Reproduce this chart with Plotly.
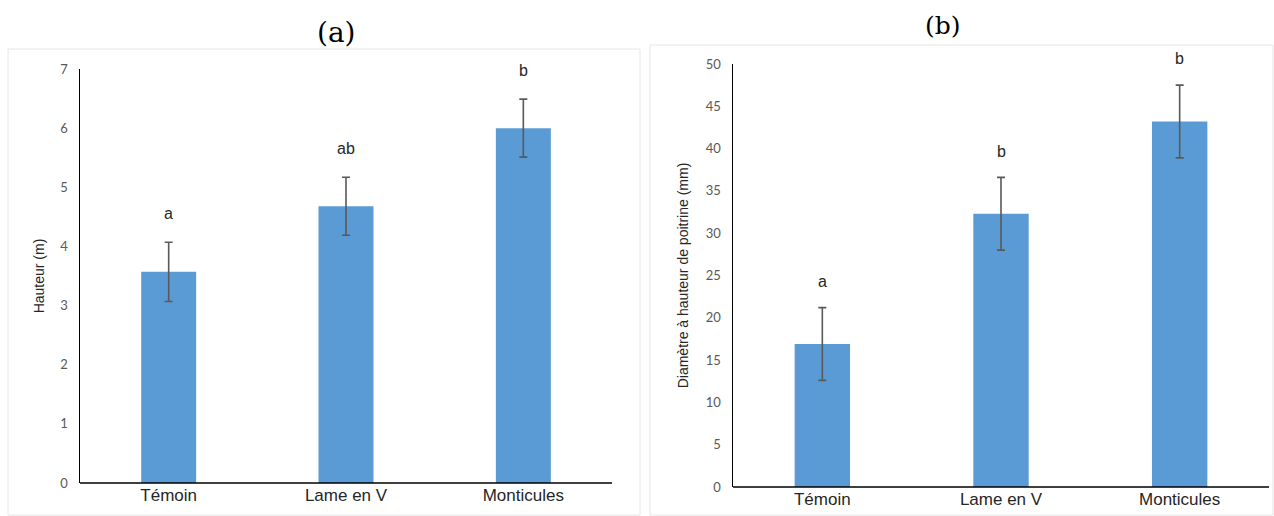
import plotly.graph_objects as go

categories = ["Témoin", "Lame en V", "Monticules"]

# Panel (a): height
height_mean = [3.57, 4.68, 6.0]
height_err = [0.5, 0.49, 0.49]
height_letters = ["a", "ab", "b"]
height_ticks = [0, 1, 2, 3, 4, 5, 6, 7]
height_range = [0, 7]

# Panel (b): diameter at breast height
dbh_mean = [16.9, 32.3, 43.2]
dbh_err = [4.3, 4.3, 4.3]
dbh_letters = ["a", "b", "b"]
dbh_ticks = [0, 5, 10, 15, 20, 25, 30, 35, 40, 45, 50]
dbh_range = [0, 50]

W, H = 1274, 516
BAR = "#5B9BD5"
ERR = "#595959"
TICK = "#595959"

fig = go.Figure()

fig.add_trace(go.Bar(
    x=categories, y=height_mean, marker=dict(color=BAR, line=dict(width=0)),
    width=0.31,
    error_y=dict(type="data", array=height_err, color=ERR, thickness=1.6, width=4),
    xaxis="x", yaxis="y", showlegend=False, hoverinfo="skip"))
fig.add_trace(go.Bar(
    x=categories, y=dbh_mean, marker=dict(color=BAR, line=dict(width=0)),
    width=0.31,
    error_y=dict(type="data", array=dbh_err, color=ERR, thickness=1.6, width=4),
    xaxis="x2", yaxis="y2", showlegend=False, hoverinfo="skip"))

# significance letters (placed above the error bars, through the axes' domain scale)
for c, m, e, t in zip(categories, height_mean, height_err, height_letters):
    v = m + e + 0.48
    fig.add_annotation(x=c, y=(v - height_range[0]) / (height_range[1] - height_range[0]),
                       xref="x", yref="y domain", yanchor="middle", text=t, showarrow=False,
                       font=dict(family="Liberation Sans", size=16, color="#262626"))
for c, m, e, t in zip(categories, dbh_mean, dbh_err, dbh_letters):
    v = m + e + 3.1
    fig.add_annotation(x=c, y=(v - dbh_range[0]) / (dbh_range[1] - dbh_range[0]),
                       xref="x2", yref="y2 domain", yanchor="middle", text=t, showarrow=False,
                       font=dict(family="Liberation Sans", size=16, color="#262626"))


def px(x):
    return x / W


def py(y):
    return 1 - y / H


xa = dict(showgrid=False, zeroline=False, showline=False, ticks="", automargin=False,
          tickfont=dict(family="Liberation Sans", size=17, color="#262626"),
          fixedrange=True)
ya_common = dict(showgrid=False, zeroline=False, showline=True, linecolor="#000000",
                 linewidth=1.5, ticks="", automargin=False, fixedrange=True,
                 tickfont=dict(family="Lato", size=13, color=TICK),
                 ticklabelstandoff=8)

fig.update_layout(
    width=W, height=H,
    margin=dict(l=0, r=0, t=0, b=0, pad=0),
    paper_bgcolor="white", plot_bgcolor="white",
    bargap=0.69,
    xaxis=dict(domain=[px(80), px(612)], anchor="y", **xa),
    yaxis=dict(domain=[py(483), py(69)], anchor="x", range=height_range, tickvals=height_ticks,
               title=dict(text="Hauteur (m)", font=dict(family="Liberation Sans", size=14, color="#262626"),
                          standoff=12),
               **ya_common),
    xaxis2=dict(domain=[px(733), px(1269)], anchor="y2", **xa),
    yaxis2=dict(domain=[py(487), py(64)], anchor="x2", range=dbh_range, tickvals=dbh_ticks,
                title=dict(text="Diamètre à hauteur de poitrine (mm)",
                           font=dict(family="Liberation Sans", size=14, color="#262626"), standoff=14),
                **ya_common),
)

shapes = [
    # panel borders
    dict(type="rect", xref="paper", yref="paper", x0=px(8), x1=px(640), y0=py(515), y1=py(49),
         line=dict(color="#E6E6E6", width=1), layer="below"),
    dict(type="rect", xref="paper", yref="paper", x0=px(650), x1=px(1273), y0=py(515), y1=py(45),
         line=dict(color="#E6E6E6", width=1), layer="below"),
    # x axis baselines
    dict(type="line", xref="paper", yref="paper", x0=px(80), x1=px(612), y0=py(483), y1=py(483),
         line=dict(color="#000000", width=1.5)),
    dict(type="line", xref="paper", yref="paper", x0=px(733), x1=px(1269), y0=py(487), y1=py(487),
         line=dict(color="#000000", width=1.5)),
]
fig.update_layout(shapes=shapes)

fig.add_annotation(text="(a)", xref="paper", yref="paper", x=px(315), y=py(32), yanchor="middle",
                   showarrow=False, font=dict(family="DejaVu Serif", size=28, color="#000000"))
fig.add_annotation(text="(b)", xref="paper", yref="paper", x=px(963), y=py(26), yanchor="middle",
                   showarrow=False, font=dict(family="DejaVu Serif", size=25, color="#000000"))

fig.write_html("out.html", config={"displayModeBar": False, "staticPlot": True},
               post_script="document.body.style.margin='0';document.body.style.overflow='hidden';")
